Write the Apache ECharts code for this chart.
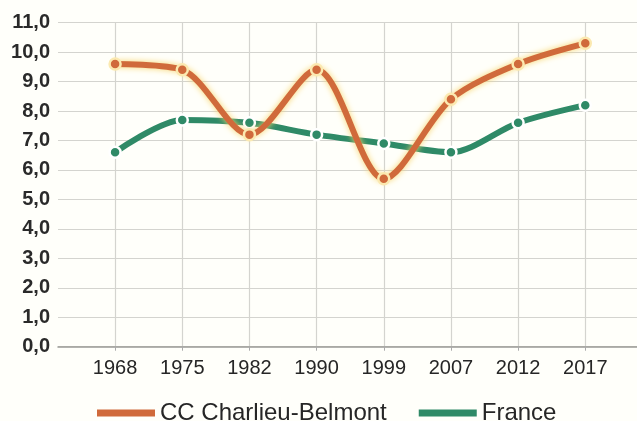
<!DOCTYPE html>
<html>
<head>
<meta charset="utf-8">
<script src="https://cdn.jsdelivr.net/npm/echarts@6/dist/echarts.min.js"></script>
<style>
  html, body { margin: 0; padding: 0; background: #fffffa; }
  #chart { width: 637px; height: 421px; }
</style>
</head>
<body>
<div id="chart"></div>
<script>
// Census years and population growth values for the two areas
const years = ['1968', '1975', '1982', '1990', '1999', '2007', '2012', '2017'];
const charlieu = [9.6, 9.4, 7.2, 9.4, 5.7, 8.4, 9.6, 10.3];
const france = [6.6, 7.7, 7.6, 7.2, 6.9, 6.6, 7.6, 8.2];
const yTicks = [0, 1, 2, 3, 4, 5, 6, 7, 8, 9, 10, 11];

const idx = years.map((_, i) => i);
const toPairs = arr => arr.map((v, i) => [i, v]);
const fmt = v => v.toFixed(1).replace('.', ',');

const font = 'Liberation Sans';
const chart = echarts.init(document.getElementById('chart'), null, { renderer: 'canvas' });

chart.setOption({
  backgroundColor: '#fffffa',
  animation: false,
  grid: { left: 58, right: 0, top: 22.7, bottom: 74.3, containLabel: false },
  xAxis: {
    type: 'value',
    min: -0.85,
    max: 7.77,
    axisLine: { show: true, lineStyle: { color: '#9a9a96', width: 1.5 } },
    axisTick: { show: true, customValues: idx, length: 4, lineStyle: { color: '#aaa' } },
    axisLabel: {
      customValues: idx,
      formatter: v => years[Math.round(v)],
      fontFamily: font, fontSize: 20, color: '#262626', margin: 12
    },
    splitLine: { show: true, lineStyle: { color: '#d4d4cf', width: 1.2 } }
  },
  yAxis: {
    type: 'value',
    min: yTicks[0],
    max: yTicks[yTicks.length - 1],
    interval: 1,
    axisLine: { show: false },
    axisTick: { show: false },
    axisLabel: {
      formatter: v => fmt(v),
      fontFamily: font, fontSize: 20, fontWeight: 'bold', color: '#2a2a2a', margin: 8
    },
    splitLine: { show: true, lineStyle: { color: '#d4d4cf', width: 1.2 } }
  },
  legend: {
    left: 92,
    top: 396,
    itemWidth: 58,
    itemHeight: 7,
    itemGap: 32,
    icon: 'rect',
    itemStyle: { borderWidth: 0 },
    textStyle: { fontFamily: font, fontSize: 24, color: '#262626', padding: [0, 0, 0, 0] },
    data: ['CC Charlieu-Belmont', 'France']
  },
  series: [
    {
      name: 'France',
      type: 'line',
      smooth: 0.3,
      data: toPairs(france),
      symbol: 'circle',
      symbolSize: 11,
      color: '#2f8a67',
      lineStyle: { color: '#2f8a67', width: 6 },
      itemStyle: { color: '#2f8a67', borderColor: '#ffffff', borderWidth: 2.5 },
      z: 2
    },
    {
      name: 'CC Charlieu-Belmont',
      type: 'line',
      smooth: 0.3,
      data: toPairs(charlieu),
      symbol: 'circle',
      symbolSize: 11,
      color: '#d06a3b',
      lineStyle: { color: '#d06a3b', width: 6, shadowColor: '#f6d46c', shadowBlur: 6 },
      itemStyle: { color: '#d06a3b', borderColor: '#fbe9b0', borderWidth: 2.5 },
      z: 3
    }
  ]
});
</script>
</body>
</html>
